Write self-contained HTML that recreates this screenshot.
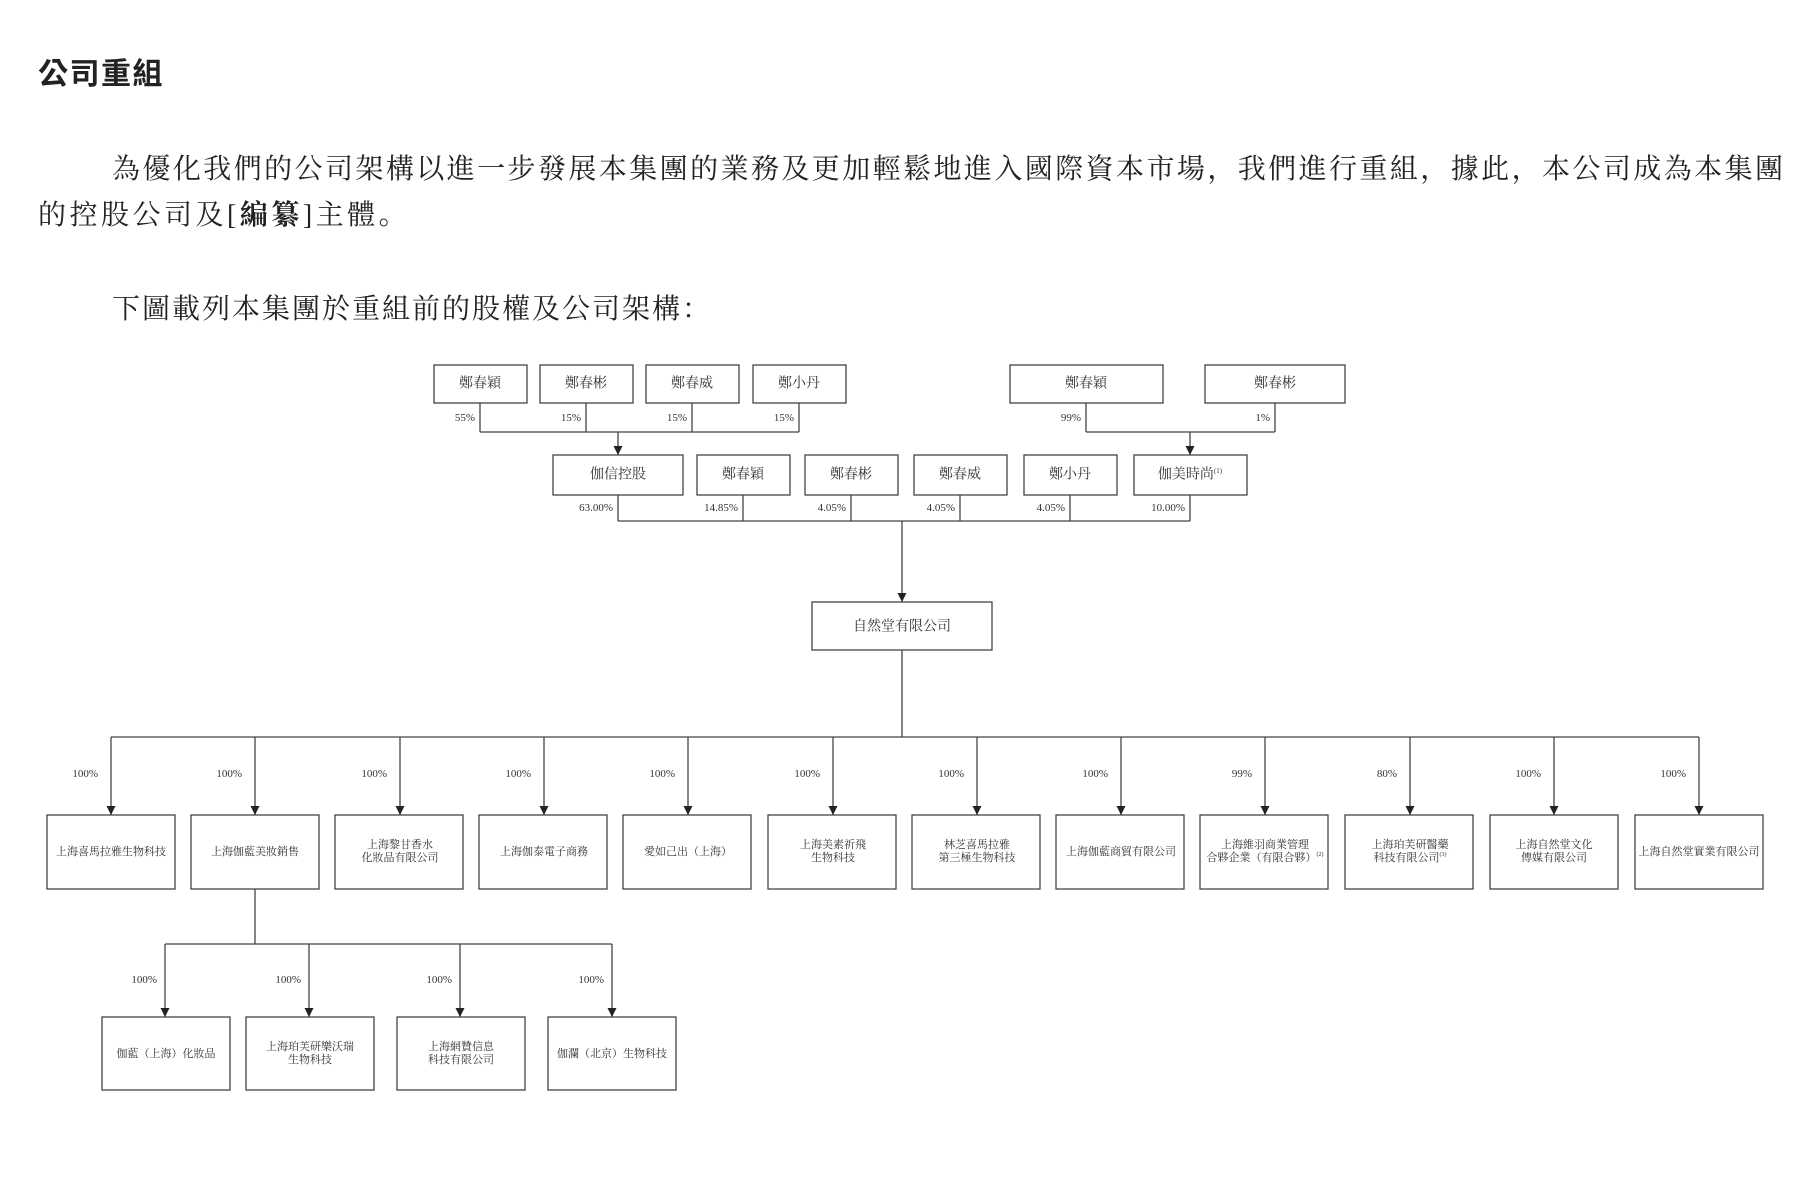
<!DOCTYPE html>
<html><head><meta charset="utf-8">
<style>
html,body{margin:0;padding:0;background:#fff;}
body{width:1800px;height:1184px;position:relative;overflow:hidden;font-family:"Liberation Serif","Noto Serif CJK SC","Noto Sans CJK TC",serif;color:#222;}
.t{position:absolute;white-space:nowrap;line-height:1;}
</style></head><body>
<div class="t" style="left:38px;top:60px;font-family:'Liberation Sans','Noto Sans CJK TC',sans-serif;font-weight:bold;font-size:30px;letter-spacing:1.5px;">公司重組</div>
<div class="t" style="left:112px;top:156px;font-size:28px;width:1671px;text-align:justify;text-align-last:justify;">為優化我們的公司架構以進一步發展本集團的業務及更加輕鬆地進入國際資本市場，我們進行重組，據此，本公司成為本集團</div>
<div class="t" style="left:38px;top:202px;font-size:28px;letter-spacing:3.5px;">的控股公司及[<b>編纂</b>]主體。</div>
<div class="t" style="left:112px;top:296px;font-size:28px;letter-spacing:2px;">下圖載列本集團於重組前的股權及公司架構：</div>

<svg width="1800" height="1184" style="position:absolute;left:0;top:0" xmlns="http://www.w3.org/2000/svg" font-family="Liberation Serif, Noto Serif CJK SC, serif" fill="#333">
<defs><marker id="a" viewBox="0 0 10 10" refX="10" refY="5" markerWidth="9" markerHeight="10" markerUnits="userSpaceOnUse" orient="auto"><path d="M0,0 L10,5 L0,10 z" fill="#222"/></marker></defs>
<g fill="none" stroke="#444" stroke-width="1.3">
<rect x="434" y="365" width="93" height="38"/><rect x="540" y="365" width="93" height="38"/><rect x="646" y="365" width="93" height="38"/><rect x="753" y="365" width="93" height="38"/>
<rect x="1010" y="365" width="153" height="38"/><rect x="1205" y="365" width="140" height="38"/>
<path d="M480 403V432M586 403V432M692 403V432M799 403V432M480 432H799"/>
<path d="M618 432V455" marker-end="url(#a)"/>
<path d="M1086 403V432M1275 403V432M1086 432H1275"/>
<path d="M1190 432V455" marker-end="url(#a)"/>
<rect x="553" y="455" width="130" height="40"/><rect x="697" y="455" width="93" height="40"/><rect x="805" y="455" width="93" height="40"/><rect x="914" y="455" width="93" height="40"/><rect x="1024" y="455" width="93" height="40"/><rect x="1134" y="455" width="113" height="40"/>
<path d="M618 495V521M743 495V521M851 495V521M960 495V521M1070 495V521M1190 495V521M618 521H1190"/>
<path d="M902 521V602" marker-end="url(#a)"/>
<rect x="812" y="602" width="180" height="48"/>
<path d="M902 650V737M111 737H1699"/>
<path d="M111 737V815" marker-end="url(#a)"/><path d="M255 737V815" marker-end="url(#a)"/><path d="M400 737V815" marker-end="url(#a)"/><path d="M544 737V815" marker-end="url(#a)"/><path d="M688 737V815" marker-end="url(#a)"/><path d="M833 737V815" marker-end="url(#a)"/><path d="M977 737V815" marker-end="url(#a)"/><path d="M1121 737V815" marker-end="url(#a)"/><path d="M1265 737V815" marker-end="url(#a)"/><path d="M1410 737V815" marker-end="url(#a)"/><path d="M1554 737V815" marker-end="url(#a)"/><path d="M1699 737V815" marker-end="url(#a)"/>
<rect x="47" y="815" width="128" height="74"/><rect x="191" y="815" width="128" height="74"/><rect x="335" y="815" width="128" height="74"/><rect x="479" y="815" width="128" height="74"/><rect x="623" y="815" width="128" height="74"/><rect x="768" y="815" width="128" height="74"/><rect x="912" y="815" width="128" height="74"/><rect x="1056" y="815" width="128" height="74"/><rect x="1200" y="815" width="128" height="74"/><rect x="1345" y="815" width="128" height="74"/><rect x="1490" y="815" width="128" height="74"/><rect x="1635" y="815" width="128" height="74"/>
<path d="M255 889V944M165 944H612"/>
<path d="M165 944V1017" marker-end="url(#a)"/><path d="M309 944V1017" marker-end="url(#a)"/><path d="M460 944V1017" marker-end="url(#a)"/><path d="M612 944V1017" marker-end="url(#a)"/>
<rect x="102" y="1017" width="128" height="73"/><rect x="246" y="1017" width="128" height="73"/><rect x="397" y="1017" width="128" height="73"/><rect x="548" y="1017" width="128" height="73"/>
</g>
<g font-size="14" text-anchor="middle" dominant-baseline="central">
<text x="480" y="384">鄭春穎</text><text x="586" y="384">鄭春彬</text><text x="692" y="384">鄭春威</text><text x="799" y="384">鄭小丹</text><text x="1086" y="384">鄭春穎</text><text x="1275" y="384">鄭春彬</text>
<text x="618" y="475">伽信控股</text><text x="743" y="475">鄭春穎</text><text x="851" y="475">鄭春彬</text><text x="960" y="475">鄭春威</text><text x="1070" y="475">鄭小丹</text><text x="1190" y="475">伽美時尚<tspan font-size="7" dy="-4">(1)</tspan></text>
<text x="902" y="627">自然堂有限公司</text>
</g>
<g font-size="11" text-anchor="end" dominant-baseline="central">
<text x="475" y="418">55%</text><text x="581" y="418">15%</text><text x="687" y="418">15%</text><text x="794" y="418">15%</text><text x="1081" y="418">99%</text><text x="1270" y="418">1%</text>
<text x="613" y="508">63.00%</text><text x="738" y="508">14.85%</text><text x="846" y="508">4.05%</text><text x="955" y="508">4.05%</text><text x="1065" y="508">4.05%</text><text x="1185" y="508">10.00%</text>
<text x="98" y="774">100%</text><text x="242" y="774">100%</text><text x="387" y="774">100%</text><text x="531" y="774">100%</text><text x="675" y="774">100%</text><text x="820" y="774">100%</text><text x="964" y="774">100%</text><text x="1108" y="774">100%</text><text x="1252" y="774">99%</text><text x="1397" y="774">80%</text><text x="1541" y="774">100%</text><text x="1686" y="774">100%</text>
<text x="157" y="980">100%</text><text x="301" y="980">100%</text><text x="452" y="980">100%</text><text x="604" y="980">100%</text>
</g>
<g font-size="11" text-anchor="middle" dominant-baseline="central">
<text x="111" y="852">上海喜馬拉雅生物科技</text>
<text x="255" y="852">上海伽藍美妝銷售</text>
<text x="400" y="845">上海黎甘香水</text><text x="400" y="858">化妝品有限公司</text>
<text x="544" y="852">上海伽泰電子商務</text>
<text x="688" y="852">愛如己出（上海）</text>
<text x="833" y="845">上海美素祈飛</text><text x="833" y="858">生物科技</text>
<text x="977" y="845">林芝喜馬拉雅</text><text x="977" y="858">第三極生物科技</text>
<text x="1121" y="852">上海伽藍商貿有限公司</text>
<text x="1265" y="845">上海維羽商業管理</text><text x="1265" y="858">合夥企業（有限合夥）<tspan font-size="6" dy="-3">(2)</tspan></text>
<text x="1410" y="845">上海珀芙研醫藥</text><text x="1410" y="858">科技有限公司<tspan font-size="6" dy="-3">(3)</tspan></text>
<text x="1554" y="845">上海自然堂文化</text><text x="1554" y="858">傳媒有限公司</text>
<text x="1699" y="852">上海自然堂實業有限公司</text>
<text x="166" y="1054">伽藍（上海）化妝品</text>
<text x="310" y="1047">上海珀芙研樂沃瑞</text><text x="310" y="1060">生物科技</text>
<text x="461" y="1047">上海網贊信息</text><text x="461" y="1060">科技有限公司</text>
<text x="612" y="1054">伽瀾（北京）生物科技</text>
</g>
</svg>
</body></html>
